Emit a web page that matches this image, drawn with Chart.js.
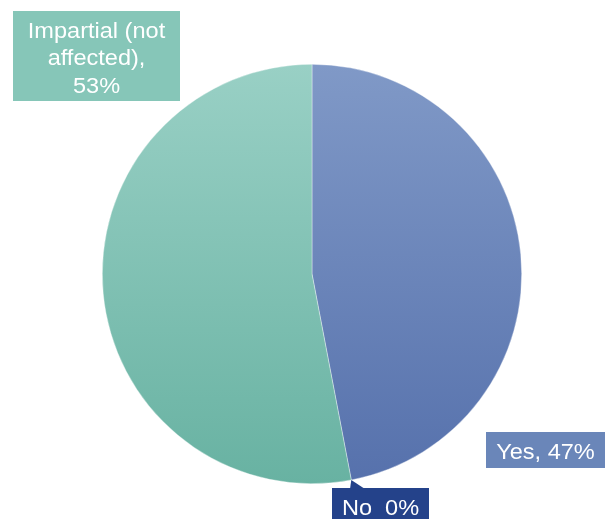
<!DOCTYPE html>
<html>
<head>
<meta charset="utf-8">
<script src="https://cdn.jsdelivr.net/npm/chart.js@4/dist/chart.umd.min.js"></script>
<style>
  html, body { margin: 0; padding: 0; background: #ffffff; }
  #wrap { width: 612px; height: 519px; position: relative; }
</style>
</head>
<body>
<div id="wrap"><canvas id="c" width="612" height="519"></canvas></div>
<script>
// Survey answers and their shares (%)
const categories = ['Yes', 'No', 'Impartial (not affected)'];
const shares = [47, 0, 53];

// Label text per slice (line-broken as drawn)
const labelLines = [
  ['Yes, 47%'],
  ['No  0%'],
  ['Impartial (not', 'affected),', '53%']
];

const gradStops = [
  ['#8099c7', '#5671ac'],
  ['#2c4b8c', '#1f3f84'],
  ['#99d0c5', '#68b2a2']
];
const labelBoxColors = ['#6a86b9', '#24428a', '#86c6b8'];

function sliceFill(ctx) {
  const chart = ctx.chart;
  const area = chart.chartArea;
  if (!area) return gradStops[ctx.dataIndex][0];
  const g = chart.ctx.createLinearGradient(0, area.top, 0, area.bottom);
  g.addColorStop(0, gradStops[ctx.dataIndex][0]);
  g.addColorStop(1, gradStops[ctx.dataIndex][1]);
  return g;
}

// Boxed labels: placement offsets relative to the pie centre
const labelPlacement = [
  { dx: 174, dy: 158, w: 119, h: 36 },   // Yes
  { dx: 20, dy: 214, w: 97, h: 34, pointer: [18, 33] }, // No
  { dx: -299, dy: -263, w: 167, h: 90 }  // Impartial
];

const boxLabels = {
  id: 'boxLabels',
  afterDatasetsDraw(chart) {
    const ctx = chart.ctx;
    const arc = chart.getDatasetMeta(0).data[0];
    const cx = arc.x, cy = arc.y, r = arc.outerRadius;
    ctx.save();
    labelLines.forEach((lines, i) => {
      const p = labelPlacement[i];
      const x = cx + p.dx, y = cy + p.dy;
      ctx.fillStyle = labelBoxColors[i];
      if (p.pointer) {
        // callout pointing to the slice position on the rim
        const el = chart.getDatasetMeta(0).data[i];
        const a = el.startAngle;
        const tx = cx + Math.cos(a) * r, ty = cy + Math.sin(a) * r;
        ctx.beginPath();
        ctx.moveTo(x + p.pointer[0], y + 1);
        ctx.lineTo(tx, ty);
        ctx.lineTo(x + p.pointer[1], y + 1);
        ctx.closePath();
        ctx.fill();
      }
      ctx.fillRect(x, y, p.w, p.h);
      ctx.fillStyle = '#ffffff';
      ctx.font = '22px "Liberation Sans", Arial, sans-serif';
      ctx.textAlign = 'center';
      ctx.textBaseline = 'alphabetic';
      const lh = 27.3;
      lines.forEach((t, k) => {
        ctx.save();
        ctx.translate(x + p.w / 2, y + 27 + k * lh);
        ctx.scale(1.07, 1);
        ctx.fillText(t, 0, 0);
        ctx.restore();
      });
    });
    ctx.restore();
  }
};

new Chart(document.getElementById('c'), {
  type: 'pie',
  data: {
    labels: categories,
    datasets: [{
      data: shares,
      backgroundColor: sliceFill,
      borderColor: 'rgba(255,255,255,0.6)',
      borderWidth: 0.6
    }]
  },
  options: {
    responsive: false,
    animation: false,
    layout: { padding: { top: 64, bottom: 35, left: 12, right: 0 } },
    plugins: {
      legend: { display: false },
      tooltip: { enabled: false }
    }
  },
  plugins: [boxLabels]
});
</script>
</body>
</html>
